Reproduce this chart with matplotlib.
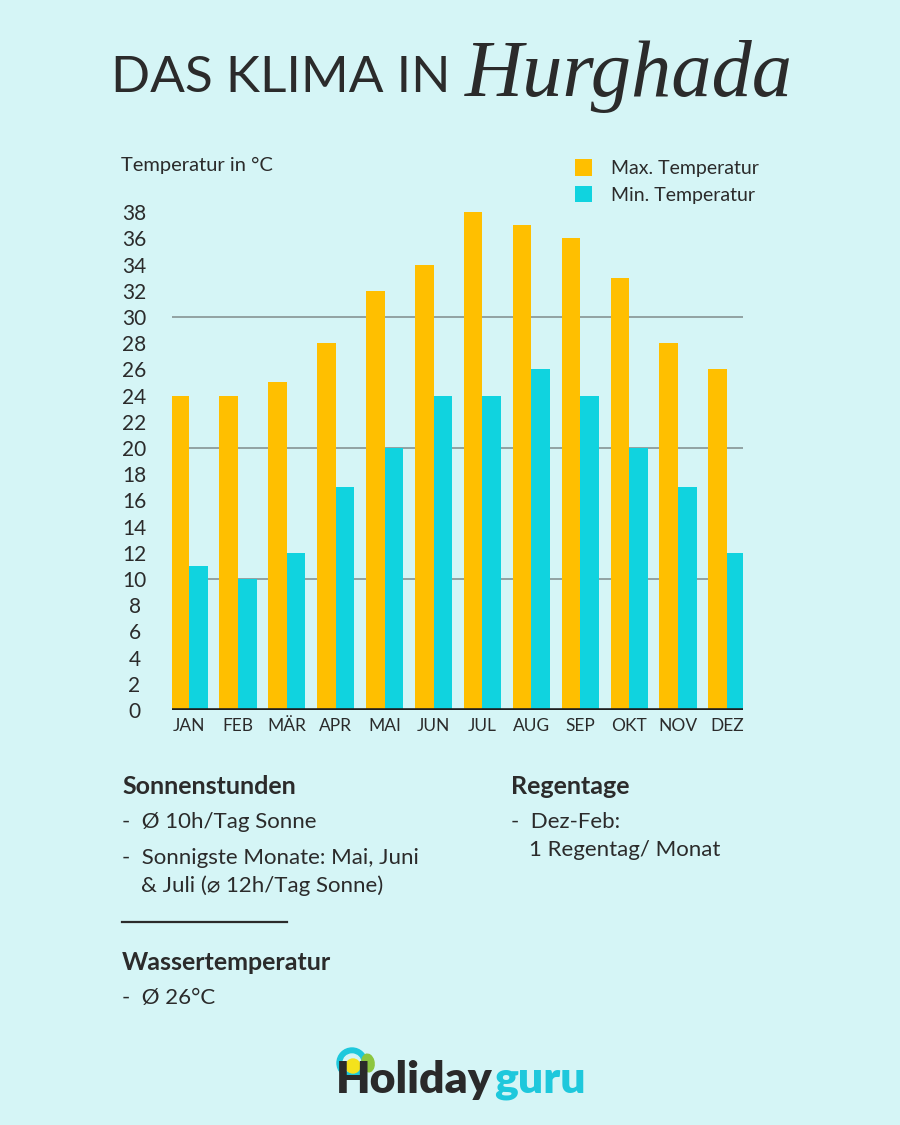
import matplotlib
matplotlib.use('Agg')
import matplotlib.pyplot as plt
from matplotlib.patches import Ellipse
from matplotlib.lines import Line2D
import numpy as np

# Data
months = ['JAN', 'FEB', 'MÄR', 'APR', 'MAI', 'JUN', 'JUL', 'AUG', 'SEP', 'OKT', 'NOV', 'DEZ']
max_temp = [24, 24, 25, 28, 32, 34, 38, 37, 36, 33, 28, 26]
min_temp = [11, 10, 12, 17, 20, 24, 24, 26, 24, 20, 17, 12]
y_ticks = list(range(0, 39, 2))
grid_values = [10, 20, 30]

# Colours
bg_color = '#d5f5f6'
orange = '#ffbf00'
cyan = '#10d3df'
text_color = '#2b2b2b'

plt.rcParams['font.family'] = ['Lato', 'DejaVu Sans']

W, H = 900, 1125
fig = plt.figure(figsize=(9, 11.25), dpi=100)
fig.patch.set_facecolor(bg_color)

def fx(x):
    return x / W

def fy(y):
    return 1 - y / H

# Title
fig.text(fx(111), fy(92), 'DAS KLIMA IN', fontsize=37, fontweight='normal',
         color=text_color, ha='left', va='baseline')
fig.text(fx(465), fy(96), 'Hurghada', fontsize=58, fontstyle='italic',
         family=['Liberation Serif', 'DejaVu Serif'], color=text_color,
         ha='left', va='baseline')

# Chart axes
ax_left, ax_right = 172, 743
y0_px = 710
px_per_unit = 13.1
ymax = 40
ax_h = ymax * px_per_unit
ax = fig.add_axes([fx(ax_left), fy(y0_px), (ax_right - ax_left) / W, ax_h / H])
ax.set_facecolor('none')

x = np.arange(len(months))
bar_w = 0.38
ax.bar(x - bar_w / 2, max_temp, width=bar_w, color=orange, label='Max. Temperatur', zorder=3)
ax.bar(x + bar_w / 2, min_temp, width=bar_w, color=cyan, label='Min. Temperatur', zorder=3)

for g in grid_values:
    ax.axhline(g, color='#8c9c9c', lw=1.3, zorder=1)
ax.axhline(0, color='#1e1e1e', lw=2.6, zorder=4)

ax.set_xlim(-0.35, len(months) - 1 + 0.33)
ax.set_ylim(0, ymax)
ax.set_xticks(x)
ax.set_xticklabels(months, fontsize=12.5, color=text_color)
ax.set_yticks(y_ticks)
ax.set_yticklabels([str(v) for v in y_ticks], fontsize=15, color=text_color)
for lbl in ax.get_yticklabels():
    lbl.set_horizontalalignment('center')
ax.tick_params(axis='y', length=0, pad=27)
ax.tick_params(axis='x', length=0, pad=6)
for s in ax.spines.values():
    s.set_visible(False)

fig.text(fx(121), fy(165), 'Temperatur in °C', fontsize=14.5, color=text_color,
         ha='left', va='center')

# Legend
ax.legend(loc='upper left',
          bbox_to_anchor=((557 - ax_left) / (ax_right - ax_left), (y0_px - 142) / ax_h),
          frameon=False, fontsize=14, handlelength=0.9, handleheight=0.9,
          handletextpad=1.0, labelspacing=0.45, labelcolor=text_color)

# Lower text blocks
head_fs = 18
body_fs = 16
fig.text(fx(122), fy(786), 'Sonnenstunden', fontsize=head_fs, fontweight='bold',
         color=text_color, va='center')
fig.text(fx(122), fy(822), '-  Ø 10h/Tag Sonne', fontsize=body_fs, color=text_color, va='center')
fig.text(fx(122), fy(858), '-  Sonnigste Monate: Mai, Juni', fontsize=body_fs, color=text_color, va='center')
fig.text(fx(141), fy(886), '& Juli (⌀ 12h/Tag Sonne)', fontsize=body_fs, color=text_color, va='center')
fig.add_artist(Line2D([fx(122), fx(287)], [fy(922), fy(922)], color=text_color, lw=1.6))
fig.text(fx(122), fy(962), 'Wassertemperatur', fontsize=head_fs, fontweight='bold',
         color=text_color, va='center')
fig.text(fx(122), fy(998), '-  Ø 26°C', fontsize=body_fs, color=text_color, va='center')

fig.text(fx(511), fy(786), 'Regentage', fontsize=head_fs, fontweight='bold',
         color=text_color, va='center')
fig.text(fx(511), fy(822), '-  Dez-Feb:', fontsize=body_fs, color=text_color, va='center')
fig.text(fx(529), fy(850), '1 Regentag/ Monat', fontsize=body_fs, color=text_color, va='center')

# Logo
fig.add_artist(Ellipse((fx(352), fy(1063)), 30 / W, 30 / H, color='#1ec8dc'))
fig.add_artist(Ellipse((fx(352), fy(1063)), 18 / W, 18 / H, color=bg_color))
fig.add_artist(Ellipse((fx(353), fy(1066)), 14 / W, 14 / H, color='#f4e21c'))
fig.add_artist(Ellipse((fx(368), fy(1063)), 12 / W, 18 / H, angle=20, color='#8cc63f'))
t_holiday = fig.text(fx(336), fy(1093), 'Holiday', fontsize=32, fontweight='heavy',
                     color='#2a2a2a', ha='left', va='baseline')
renderer = fig.canvas.get_renderer()
bb = t_holiday.get_window_extent(renderer)
fig.text(bb.x1 / W + 1 / W, fy(1093), 'guru', fontsize=32, fontweight='heavy',
         color='#1ec8dc', ha='left', va='baseline')

fig.savefig('out.png', dpi=100, facecolor=bg_color)
